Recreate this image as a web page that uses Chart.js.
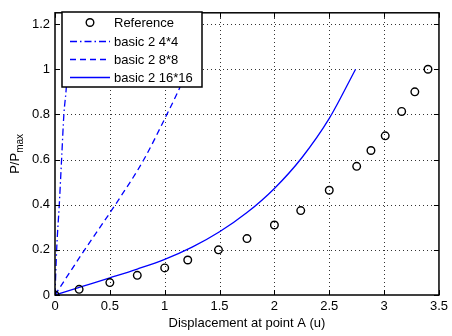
<!DOCTYPE html>
<html>
<head>
<meta charset="utf-8">
<script src="https://cdn.jsdelivr.net/npm/chart.js@4/dist/chart.umd.min.js"></script>
<style>
  html, body { margin: 0; padding: 0; background: #fff; }
  #wrap { width: 452px; height: 336px; }
</style>
</head>
<body>
<div id="wrap"><canvas id="plot" width="452" height="336"></canvas></div>
<script>
// ─── DATA ───
const refX = [0, 0.22, 0.5, 0.75, 1.0, 1.21, 1.49, 1.75, 2.0, 2.24, 2.5, 2.75, 2.88, 3.01, 3.16, 3.28, 3.4];
const refY = [0, 0.025, 0.055, 0.087, 0.12, 0.155, 0.2, 0.25, 0.31, 0.374, 0.464, 0.57, 0.64, 0.705, 0.813, 0.9, 1.0];

const mesh4X = [0, 0.015, 0.039, 0.06, 0.081, 0.1, 0.115];
const mesh4Y = [0, 0.2, 0.4, 0.6, 0.8, 0.9, 1.0];

const mesh8X = [0, 0.27, 0.55, 0.81, 1.02, 1.12, 1.21];
const mesh8Y = [0, 0.2, 0.4, 0.6, 0.8, 0.9, 1.0];

const mesh16X = [0, 0.25, 0.5, 0.75, 1.0, 1.25, 1.5, 1.75, 2.0, 2.25, 2.5, 2.74];
const mesh16Y = [0, 0.038, 0.076, 0.115, 0.158, 0.212, 0.28, 0.365, 0.472, 0.608, 0.782, 1.0];

const xTicks = [0, 0.5, 1, 1.5, 2, 2.5, 3, 3.5];
const yTicks = [0, 0.2, 0.4, 0.6, 0.8, 1, 1.2];

const seriesNames = ['Reference', 'basic 2 4*4', 'basic 2 8*8', 'basic 2 16*16'];

const FONT = 'Liberation Sans, Arial, Helvetica, sans-serif';
const BLUE = '#0000ff';

function pts(xs, ys) { return xs.map((x, i) => ({ x: x, y: ys[i] })); }

// dotted grid, inside the box only
const dottedGrid = {
    id: 'dottedGrid',
    beforeDatasetsDraw(chart) {
        const ctx = chart.ctx;
        const a = chart.chartArea;
        const xs = chart.scales.x, ys = chart.scales.y;
        ctx.save();
        ctx.strokeStyle = '#333';
        ctx.lineWidth = 1;
        ctx.setLineDash([1, 3]);
        ctx.beginPath();
        xTicks.slice(1, -1).forEach(v => {
            const px = Math.round(xs.getPixelForValue(v)) + 0.5;
            ctx.moveTo(px, a.bottom); ctx.lineTo(px, a.top);
        });
        yTicks.slice(1).forEach(v => {
            const py = Math.round(ys.getPixelForValue(v)) + 0.5;
            ctx.moveTo(a.left, py); ctx.lineTo(a.right, py);
        });
        ctx.stroke();
        ctx.restore();
    }
};

// ─── FRAME: box, inward ticks, y label, legend ───
const matlabFrame = {
    id: 'matlabFrame',
    afterDraw(chart) {
        const ctx = chart.ctx;
        const a = chart.chartArea;
        const xs = chart.scales.x, ys = chart.scales.y;
        ctx.save();
        ctx.strokeStyle = '#000';
        ctx.lineWidth = 1;
        ctx.beginPath();
        xTicks.forEach(v => {
            const px = Math.round(xs.getPixelForValue(v)) + 0.5;
            ctx.moveTo(px, a.bottom); ctx.lineTo(px, a.bottom - 5);
            ctx.moveTo(px, a.top); ctx.lineTo(px, a.top + 5);
        });
        yTicks.forEach(v => {
            const py = Math.round(ys.getPixelForValue(v)) + 0.5;
            ctx.moveTo(a.left, py); ctx.lineTo(a.left + 5, py);
            ctx.moveTo(a.right, py); ctx.lineTo(a.right - 5, py);
        });
        ctx.stroke();
        ctx.lineWidth = 1.5;
        ctx.strokeRect(a.left, a.top, a.right - a.left, a.bottom - a.top);

        // y axis label with subscript
        ctx.fillStyle = '#000';
        ctx.textBaseline = 'alphabetic';
        ctx.font = '13px ' + FONT;
        const main = 'P/P';
        const wMain = ctx.measureText(main).width;
        ctx.font = '10px ' + FONT;
        const wSub = ctx.measureText('max').width;
        ctx.translate(19, (a.top + a.bottom) / 2);
        ctx.rotate(-Math.PI / 2);
        const x0 = -(wMain + wSub) / 2;
        ctx.font = '13px ' + FONT;
        ctx.fillText(main, x0, 0);
        ctx.font = '10px ' + FONT;
        ctx.fillText('max', x0 + wMain, 4);
        ctx.restore();

        // legend
        ctx.save();
        const bx = 62, by = 12, bw = 140, bh = 75;
        ctx.fillStyle = '#fff';
        ctx.fillRect(bx, by, bw, bh);
        ctx.strokeStyle = '#000';
        ctx.lineWidth = 1.5;
        ctx.strokeRect(bx, by, bw, bh);
        const rows = [22.5, 41.5, 59.5, 77.5];
        const dashes = [null, [7, 3, 1.5, 3], [6, 4], []];
        ctx.font = '13px ' + FONT;
        ctx.textBaseline = 'middle';
        rows.forEach((ry, i) => {
            if (i === 0) {
                ctx.strokeStyle = '#000';
                ctx.lineWidth = 1.4;
                ctx.beginPath();
                ctx.arc(90, ry, 3.8, 0, Math.PI * 2);
                ctx.stroke();
            } else {
                ctx.strokeStyle = BLUE;
                ctx.lineWidth = 1.3;
                ctx.setLineDash(dashes[i]);
                ctx.beginPath();
                ctx.moveTo(70, ry); ctx.lineTo(110, ry);
                ctx.stroke();
                ctx.setLineDash([]);
            }
            ctx.fillStyle = '#000';
            ctx.fillText(seriesNames[i], 114, ry + 1);
        });
        ctx.restore();
    }
};

const lineStyle = (dash) => ({
    showLine: true,
    borderColor: BLUE,
    borderWidth: 1.3,
    borderDash: dash,
    pointRadius: 0,
    cubicInterpolationMode: 'monotone',
    fill: false
});

new Chart(document.getElementById('plot'), {
    type: 'scatter',
    data: {
        datasets: [
            {
                label: seriesNames[0],
                data: pts(refX, refY),
                showLine: false,
                pointStyle: 'circle',
                pointRadius: 3.8,
                pointBorderWidth: 1.4,
                pointBorderColor: '#000',
                pointBackgroundColor: 'rgba(0,0,0,0)',
                order: 0
            },
            Object.assign({ label: seriesNames[1], data: pts(mesh4X, mesh4Y), order: 1 }, lineStyle([7, 3, 1.5, 3])),
            Object.assign({ label: seriesNames[2], data: pts(mesh8X, mesh8Y), order: 2 }, lineStyle([6, 4])),
            Object.assign({ label: seriesNames[3], data: pts(mesh16X, mesh16Y), order: 3 }, lineStyle([]))
        ]
    },
    options: {
        responsive: false,
        animation: false,
        devicePixelRatio: 1,
        layout: { padding: { left: 0, top: 5, right: 10, bottom: 5 } },
        plugins: { legend: { display: false }, tooltip: { enabled: false } },
        scales: {
            x: {
                type: 'linear',
                min: 0, max: 3.5,
                afterBuildTicks: s => { s.ticks = xTicks.map(v => ({ value: v })); },
                afterFit: s => { s.height = 36; },
                ticks: { color: '#000', font: { family: FONT, size: 13 }, padding: 4, maxRotation: 0, callback: v => String(v) },
                grid: { display: false, drawTicks: false },
                border: { display: false },
                title: { display: true, text: 'Displacement at point A (u)', color: '#000', font: { family: FONT, size: 13 }, padding: { top: 1, bottom: 0 } }
            },
            y: {
                type: 'linear',
                min: 0, max: 1.25,
                afterBuildTicks: s => { s.ticks = yTicks.map(v => ({ value: v })); },
                afterFit: s => { s.width = 55; },
                ticks: { color: '#000', font: { family: FONT, size: 13 }, padding: 5, callback: v => String(v) },
                grid: { display: false, drawTicks: false },
                border: { display: false }
            }
        }
    },
    plugins: [dottedGrid, matlabFrame]
});
</script>
</body>
</html>
